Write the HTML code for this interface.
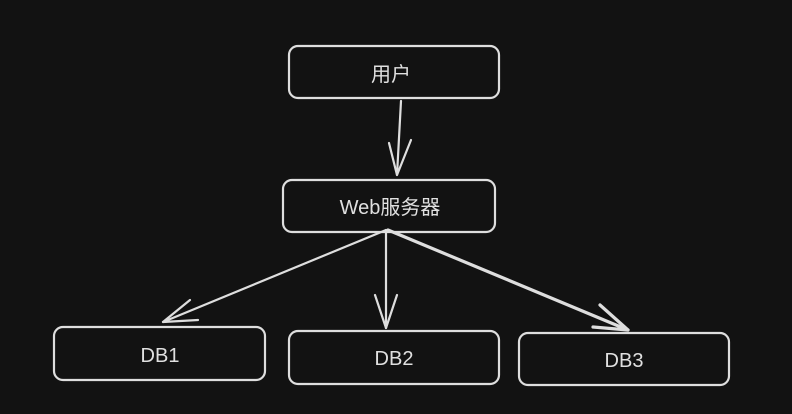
<!DOCTYPE html>
<html><head><meta charset="utf-8"><style>
html,body{margin:0;padding:0;background:#121212;}
svg{display:block}
text{font-family:"Liberation Sans","Noto Sans CJK SC",sans-serif;fill:#e0e0e0;font-size:20px;text-anchor:middle;}
</style></head><body>
<svg width="792" height="414" viewBox="0 0 792 414">
<g fill="none" stroke="#dedede" stroke-width="2.2" stroke-linecap="round" stroke-linejoin="round">
<rect x="289" y="46" width="210" height="52" rx="9"/>
<rect x="283" y="180" width="212" height="52" rx="9"/>
<rect x="54" y="327" width="211" height="53" rx="9"/>
<rect x="289" y="331" width="210" height="53" rx="9"/>
<rect x="519" y="333" width="210" height="52" rx="9"/>
<path d="M401 101 L397 175"/>
<path d="M389 143 L397 175 L411 140"/>
<path d="M386 230 L163 322"/>
<path d="M190 300 L163 322 L198 320"/>
<path d="M386 230 L386 328"/>
<path d="M375 295 L386 328 L397 295"/>
<path d="M388 230 L628 330" stroke-width="3.2"/>
<path d="M600 305 L628 330 L593 327" stroke-width="3.2"/>
</g>
<text x="391" y="81">用户</text>
<text x="390" y="214">Web服务器</text>
<text x="160" y="362">DB1</text>
<text x="394" y="365">DB2</text>
<text x="624" y="367">DB3</text>
</svg>
</body></html>
